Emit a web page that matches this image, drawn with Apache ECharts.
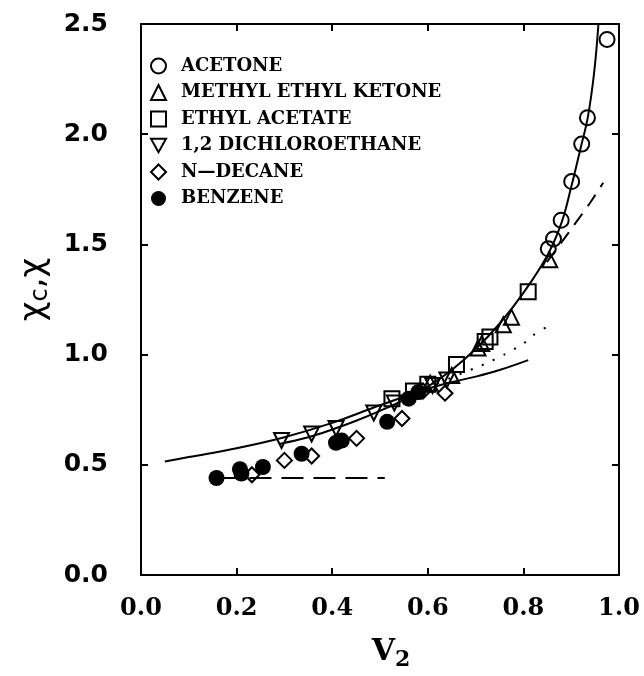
<!DOCTYPE html>
<html>
<head>
<meta charset="utf-8">
<script src="https://cdn.jsdelivr.net/npm/echarts@6/dist/echarts.min.js"></script>
<style>
  html, body { margin: 0; padding: 0; background: #fff; }
  #chart { width: 644px; height: 676px; }
</style>
</head>
<body>
<div id="chart"></div>
<script>
// tick labels
var xTicks = ['0.0', '0.2', '0.4', '0.6', '0.8', '1.0'];
var yTicks = ['0.0', '0.5', '1.0', '1.5', '2.0', '2.5'];

// measured points [v2, chi]
var acetone = [[0.852, 1.48], [0.863, 1.525], [0.879, 1.61], [0.901, 1.785], [0.922, 1.955], [0.934, 2.075], [0.975, 2.43]];
var mek = [[0.605, 0.87], [0.65, 0.905], [0.705, 1.03], [0.713, 1.05], [0.758, 1.135], [0.775, 1.17], [0.855, 1.43]];
var ethylAcetate = [[0.525, 0.80], [0.57, 0.835], [0.60, 0.865], [0.66, 0.955], [0.72, 1.06], [0.73, 1.08], [0.81, 1.285]];
var dichloroethane = [[0.294, 0.61], [0.357, 0.64], [0.408, 0.665], [0.487, 0.735], [0.53, 0.78], [0.61, 0.86], [0.64, 0.885]];
var nDecane = [[0.232, 0.455], [0.30, 0.52], [0.357, 0.54], [0.451, 0.62], [0.546, 0.71], [0.59, 0.835], [0.636, 0.825]];
var benzene = [[0.158, 0.44], [0.207, 0.48], [0.21, 0.46], [0.255, 0.49], [0.336, 0.55], [0.408, 0.60], [0.42, 0.61], [0.515, 0.695], [0.56, 0.80], [0.58, 0.83]];

// model curves
var curveSteep = [[0.29, 0.595], [0.35, 0.625], [0.40, 0.66], [0.45, 0.70], [0.50, 0.745], [0.55, 0.795], [0.60, 0.855], [0.65, 0.93], [0.70, 1.025], [0.75, 1.14], [0.80, 1.28], [0.85, 1.45], [0.88, 1.60], [0.90, 1.76], [0.92, 1.94], [0.935, 2.08], [0.948, 2.28], [0.957, 2.5]];
var curveFlat = [[0.05, 0.515], [0.10, 0.535], [0.20, 0.575], [0.30, 0.625], [0.40, 0.69], [0.50, 0.77], [0.60, 0.845], [0.65, 0.875], [0.70, 0.90], [0.75, 0.93], [0.81, 0.975]];
var dotted = [[0.62, 0.87], [0.70, 0.94], [0.73, 0.968], [0.76, 1.0], [0.80, 1.05], [0.82, 1.087], [0.847, 1.123]];
var dashedHigh = [[0.849, 1.42], [0.88, 1.51], [0.91, 1.60], [0.94, 1.69], [0.967, 1.78]];
var dashedLow = [[0.16, 0.44], [0.51, 0.44]];

function pointSeries(name, data, symbol, filled) {
    return {
        name: name,
        type: 'scatter',
        data: data,
        symbol: symbol,
        symbolSize: filled ? 16 : 15,
        z: 5,
        itemStyle: {
            opacity: 1,
            color: filled ? '#000' : 'rgba(255,255,255,0)',
            borderColor: '#000',
            borderWidth: filled ? 0 : 2
        }
    };
}

function lineSeries(data, type, smooth) {
    return {
        type: 'line',
        data: data,
        showSymbol: false,
        smooth: smooth,
        silent: true,
        z: 3,
        lineStyle: { color: '#000', width: 2, type: type }
    };
}

function frameAxis(pos, isX) {
    var ax = {
        type: 'value', position: pos,
        axisLine: { onZero: false, lineStyle: { color: '#000', width: 2 } },
        axisTick: { inside: true, length: 7, lineStyle: { color: '#000', width: 2 } },
        axisLabel: { show: false },
        splitLine: { show: false }
    };
    if (isX) { ax.min = 0; ax.max = 1; ax.interval = 0.2; }
    else { ax.min = 0; ax.max = 2.5; ax.interval = 0.5; }
    return ax;
}

var triDown = 'path://M0,0 L10,0 L5,9 Z';

var option = {
    animation: false,
    backgroundColor: '#fff',
    grid: { left: 141, right: 25, top: 24, bottom: 97 },
    legend: {
        orient: 'vertical',
        left: 145,
        top: 52,
        itemWidth: 15,
        itemHeight: 15,
        itemGap: 8.5,
        textStyle: { fontFamily: 'DejaVu Serif', fontWeight: 'bold', fontSize: 18, color: '#000', padding: [0, 0, 0, 10] },
        data: ['ACETONE', 'METHYL ETHYL KETONE', 'ETHYL ACETATE', '1,2 DICHLOROETHANE', 'N\u2014DECANE', 'BENZENE']
    },
    xAxis: [{
        type: 'value', min: 0, max: 1, interval: 0.2,
        name: '{a|V}{b|2}',
        nameLocation: 'middle',
        nameGap: 58,
        nameTextStyle: {
            padding: [0, 0, 0, 22],
            rich: {
                a: { fontFamily: 'DejaVu Serif', fontWeight: 'bold', fontSize: 30, color: '#000' },
                b: { fontFamily: 'DejaVu Serif', fontWeight: 'bold', fontSize: 22, color: '#000', padding: [16, 0, 0, 0] }
            }
        },
        axisLine: { onZero: false, lineStyle: { color: '#000', width: 2 } },
        axisTick: { inside: true, length: 7, lineStyle: { color: '#000', width: 2 } },
        axisLabel: {
            margin: 22, color: '#000', fontFamily: 'DejaVu Serif', fontWeight: 'bold', fontSize: 24,
            formatter: function (v) { return xTicks[Math.round(v / 0.2)]; }
        },
        splitLine: { show: false }
    }, frameAxis('top', true)],
    yAxis: [{
        type: 'value', min: 0, max: 2.5, interval: 0.5,
        name: '{a|\u03c7}{b|c}{a|,\u03c7}',
        nameLocation: 'middle',
        nameRotate: 90,
        nameGap: 82,
        nameTextStyle: {
            padding: [0, 0, 0, 20],
            rich: {
                a: { fontFamily: 'DejaVu Sans', fontSize: 34, color: '#000' },
                b: { fontFamily: 'DejaVu Sans', fontSize: 24, color: '#000', padding: [14, 0, 0, 0] }
            }
        },
        axisLine: { onZero: false, lineStyle: { color: '#000', width: 2 } },
        axisTick: { inside: true, length: 7, lineStyle: { color: '#000', width: 2 } },
        axisLabel: {
            margin: 33, color: '#000', fontFamily: 'DejaVu Sans', fontWeight: 'bold', fontSize: 25,
            formatter: function (v) { return yTicks[Math.round(v / 0.5)]; }
        },
        splitLine: { show: false }
    }, frameAxis('right', false)],
    series: [
        lineSeries(curveSteep, 'solid', 0.4),
        lineSeries(curveFlat, 'solid', 0.4),
        lineSeries(dotted, [2, 10], 0.3),
        lineSeries(dashedHigh, [14, 9], 0.3),
        lineSeries(dashedLow, [22, 10], false),
        pointSeries('ACETONE', acetone, 'circle', false),
        pointSeries('METHYL ETHYL KETONE', mek, 'triangle', false),
        pointSeries('ETHYL ACETATE', ethylAcetate, 'rect', false),
        pointSeries('1,2 DICHLOROETHANE', dichloroethane, triDown, false),
        pointSeries('N\u2014DECANE', nDecane, 'diamond', false),
        pointSeries('BENZENE', benzene, 'circle', true)
    ]
};

var chart = echarts.init(document.getElementById('chart'));
chart.setOption(option);
</script>
</body>
</html>
